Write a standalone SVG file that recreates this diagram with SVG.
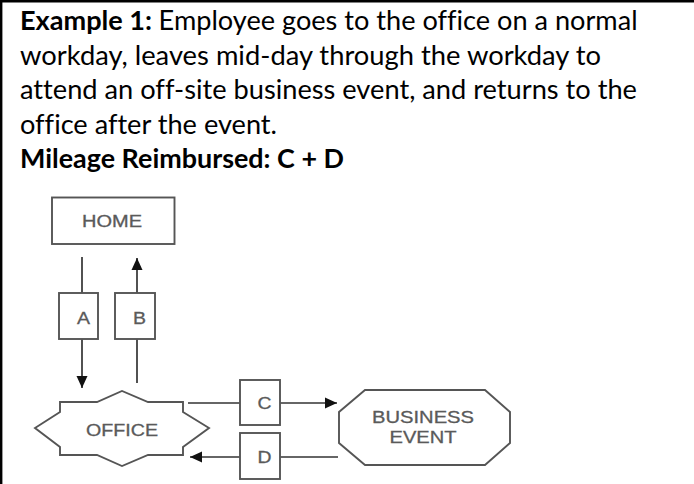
<svg xmlns="http://www.w3.org/2000/svg" width="694" height="484" viewBox="0 0 694 484">
  <style>
    .body { font-family: Lato, "Open Sans", "Liberation Sans", sans-serif; font-size: 27px; fill: #000; font-variant-ligatures: none; font-feature-settings: "liga" 0; }
    .bold { font-weight: bold; }
    .lbl { font-family: "Liberation Sans", Arial, sans-serif; font-size: 17px; fill: #5a5a5a; stroke: #5a5a5a; stroke-width: 0.3; text-anchor: middle; }
    .shape { fill: #fff; stroke: #555; stroke-width: 1.9; }
    .conn { fill: none; stroke: #333; stroke-width: 1.7; }
  </style>
  <defs>
    <marker id="arrow" markerUnits="userSpaceOnUse" markerWidth="12" markerHeight="12" viewBox="0 0 12 12" refX="12" refY="6" orient="auto">
      <path d="M0,0.5 L12,6 L0,11.5 Z" fill="#111"/>
    </marker>
  </defs>
  <rect x="0" y="0" width="694" height="484" fill="#fff"/>
  <g id="border">
    <line x1="0" y1="1.2" x2="694" y2="1.2" stroke="#000" stroke-width="2.4"/>
    <line x1="1.2" y1="0" x2="1.2" y2="484" stroke="#000" stroke-width="2.4"/>
  </g>
  <g id="description">
    <text class="body bold" x="20" y="30" textLength="132" lengthAdjust="spacingAndGlyphs">Example 1:</text>
    <text class="body" x="158.6" y="30" textLength="479" lengthAdjust="spacingAndGlyphs">Employee goes to the office on a normal</text>
    <text class="body" x="20" y="64.5" textLength="581" lengthAdjust="spacingAndGlyphs">workday, leaves mid-day through the workday to</text>
    <text class="body" x="20" y="99" textLength="617" lengthAdjust="spacingAndGlyphs">attend an off-site business event, and returns to the</text>
    <text class="body" x="20" y="133.5" textLength="257" lengthAdjust="spacingAndGlyphs">office after the event.</text>
    <text class="body bold" x="20" y="168" textLength="324" lengthAdjust="spacingAndGlyphs">Mileage Reimbursed: C + D</text>
  </g>
  <g id="connectors">
    <line class="conn" x1="82" y1="257" x2="82" y2="293"/>
    <line class="conn" x1="82" y1="339" x2="82" y2="388" marker-end="url(#arrow)"/>
    <line class="conn" x1="137" y1="383" x2="137" y2="339"/>
    <line class="conn" x1="137" y1="293" x2="137" y2="258" marker-end="url(#arrow)"/>
    <line class="conn" x1="188" y1="403" x2="240" y2="403"/>
    <line class="conn" x1="280" y1="403" x2="337" y2="403" marker-end="url(#arrow)"/>
    <line class="conn" x1="338" y1="457" x2="280" y2="457"/>
    <line class="conn" x1="240" y1="457" x2="190" y2="457" marker-end="url(#arrow)"/>
  </g>
  <g id="label-A">
    <rect class="shape" x="59" y="293" width="39" height="46"/>
    <text class="lbl" x="83.5" y="324" textLength="13" lengthAdjust="spacingAndGlyphs">A</text>
  </g>
  <g id="label-B">
    <rect class="shape" x="115" y="293" width="40" height="46"/>
    <text class="lbl" x="139.5" y="324" textLength="13" lengthAdjust="spacingAndGlyphs">B</text>
  </g>
  <g id="label-C">
    <rect class="shape" x="240" y="380" width="40" height="45"/>
    <text class="lbl" x="264.5" y="409" textLength="14" lengthAdjust="spacingAndGlyphs">C</text>
  </g>
  <g id="label-D">
    <rect class="shape" x="240" y="433" width="40" height="46"/>
    <text class="lbl" x="264.5" y="463" textLength="14" lengthAdjust="spacingAndGlyphs">D</text>
  </g>
  <g id="home">
    <rect class="shape" x="52" y="197.5" width="122.5" height="46.5"/>
    <text class="lbl" x="112" y="227" textLength="60" lengthAdjust="spacingAndGlyphs">HOME</text>
  </g>
  <g id="office">
    <polygon class="shape" points="60,402 97,402 122,391 148,402 183,402 183,412 209,428 183,447 183,455 148,455 122,466 97,455 60,455 60,447 35,428 60,412"/>
    <text class="lbl" x="122" y="436" textLength="72" lengthAdjust="spacingAndGlyphs">OFFICE</text>
  </g>
  <g id="business-event">
    <polygon class="shape" points="365,390 485,390 510,412 510,443 485,465 365,465 339,443 339,412"/>
    <text class="lbl" x="423" y="423" textLength="102" lengthAdjust="spacingAndGlyphs">BUSINESS</text>
    <text class="lbl" x="423" y="443" textLength="67" lengthAdjust="spacingAndGlyphs">EVENT</text>
  </g>
</svg>
